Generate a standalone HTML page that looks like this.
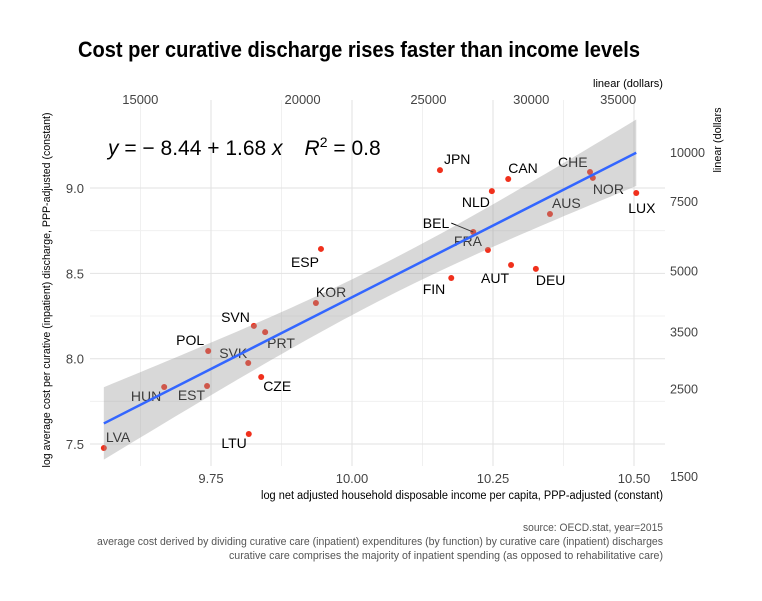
<!DOCTYPE html>
<html><head><meta charset="utf-8"><style>
body{margin:0;background:#fff;}
svg{display:block;font-family:"Liberation Sans",sans-serif;}
</style></head><body>
<svg id="c" width="762" height="601">
<text x="78" y="57" font-size="22" font-weight="bold" fill="#000" textLength="562" lengthAdjust="spacingAndGlyphs">Cost per curative discharge rises faster than income levels</text>
<g id="grid"></g><g id="pts"></g><g id="lbl"></g><g id="band"></g><g id="axes"></g>
<text x="663" y="87" font-size="11" text-anchor="end" fill="#000" textLength="70" lengthAdjust="spacingAndGlyphs">linear (dollars)</text>
<text transform="translate(721,140) rotate(-90)" font-size="11" text-anchor="middle" fill="#000" textLength="65" lengthAdjust="spacingAndGlyphs">linear (dollars</text>
<text x="663" y="499" font-size="11.5" text-anchor="end" fill="#000" textLength="402" lengthAdjust="spacingAndGlyphs">log net adjusted household disposable income per capita, PPP-adjusted (constant)</text>
<text transform="translate(50,290) rotate(-90)" font-size="11" text-anchor="middle" fill="#000" textLength="355" lengthAdjust="spacingAndGlyphs">log average cost per curative (inpatient) discharge, PPP-adjusted (constant)</text>
<text x="108" y="155" font-size="21" fill="#000"><tspan font-style="italic">y</tspan> = − 8.44 + 1.68 <tspan font-style="italic">x</tspan><tspan dx="22" font-style="italic">R</tspan><tspan dy="-8" font-size="14">2</tspan><tspan dy="8"> = 0.8</tspan></text>
<g font-size="11" fill="#555" text-anchor="end">
<text x="663" y="531" textLength="140" lengthAdjust="spacingAndGlyphs">source: OECD.stat, year=2015</text>
<text x="663" y="545" textLength="566" lengthAdjust="spacingAndGlyphs">average cost derived by dividing curative care (inpatient) expenditures (by function) by curative care (inpatient) discharges</text>
<text x="663" y="559" textLength="434" lengthAdjust="spacingAndGlyphs">curative care comprises the majority of inpatient spending (as opposed to rehabilitative care)</text>
</g>
</svg>
<script>
const countries=["LVA","HUN","EST","POL","SVK","LTU","CZE","SVN","PRT","KOR","ESP","JPN","FIN","CAN","NLD","BEL","FRA","AUT","DEU","AUS","CHE","NOR","LUX"];
const incomeLog=[9.560,9.667,9.743,9.745,9.816,9.817,9.839,9.826,9.846,9.936,9.945,10.156,10.176,10.277,10.248,10.215,10.241,10.282,10.326,10.351,10.422,10.427,10.504];
const costLog=[7.477,7.834,7.840,8.045,7.975,7.559,7.893,8.192,8.156,8.326,8.643,9.105,8.473,9.053,8.982,8.742,8.637,8.549,8.526,8.848,9.094,9.059,8.971];
const xTicks=[9.75,10.00,10.25,10.50];
const yTicks=[7.5,8.0,8.5,9.0];
const topTicks=[15000,20000,25000,30000,35000];
const rightTicks=[1500,2500,3500,5000,7500,10000];
const coef=[-8.44,1.68];
const lblOff=[[2,-6,"s"],[-3,14,"e"],[-2,14,"e"],[-4,-6,"e"],[-1,-5,"e"],[-2,14,"e"],[2,14,"s"],[-4,-4,"e"],[2,16,"s"],[0,-6,"s"],[-2,18,"e"],[4,-6,"s"],[-6,16,"e"],[0,-6,"s"],[-2,16,"e"],[-24,-4,"e"],[-34,-4,"s"],[-30,18,"s"],[0,16,"s"],[2,-6,"s"],[-32,-5,"s"],[0,16,"s"],[-8,20,"s"]];
const X=v=>352+(v-10)*564, Y=v=>188+(9-v)*170.7;
const NS="http://www.w3.org/2000/svg";
function mk(p,t,a){const e=document.createElementNS(NS,t);for(const k in a)e.setAttribute(k,a[k]);document.getElementById(p).appendChild(e);return e;}
const x0=90,x1=665,y0=100,y1=466;
[9.625,9.875,10.125,10.375].forEach(v=>{const e=mk("grid","line",{x1:X(v),x2:X(v),y1:y0,y2:y1,stroke:"#f0f0f0"});});
[7.75,8.25,8.75].forEach(v=>{const e=mk("grid","line",{x1:x0,x2:x1,y1:Y(v),y2:Y(v),stroke:"#f0f0f0"});});
xTicks.forEach(v=>{const e=mk("grid","line",{x1:X(v),x2:X(v),y1:y0,y2:y1,stroke:"#e2e2e2"});
 const t=mk("axes","text",{x:X(v),y:483,"font-size":13,fill:"#444","text-anchor":"middle"});t.textContent=v.toFixed(2);});
yTicks.forEach(v=>{const e=mk("grid","line",{x1:x0,x2:x1,y1:Y(v),y2:Y(v),stroke:"#e2e2e2"});
 const t=mk("axes","text",{x:84,y:Y(v)+5,"font-size":13,fill:"#444","text-anchor":"end"});t.textContent=v.toFixed(1);});
topTicks.forEach(v=>{const t=mk("axes","text",{x:X(Math.log(v))+5,y:104,"font-size":13,fill:"#444","text-anchor":"middle"});t.textContent=v;});
rightTicks.forEach(v=>{const t=mk("axes","text",{x:670,y:Y(Math.log(v))+5,"font-size":13,fill:"#444",textLength:String(v).length*7,lengthAdjust:"spacingAndGlyphs"});t.textContent=v;});
incomeLog.forEach((v,i)=>{const c=mk("pts","circle",{cx:X(v),cy:Y(costLog[i]),r:3,fill:"#f0301c"});});
const n=incomeLog.length,xm=incomeLog.reduce((a,b)=>a+b)/n;
let sxx=0,sse=0;incomeLog.forEach((v,i)=>{sxx+=(v-xm)**2;sse+=(costLog[i]-(coef[0]+coef[1]*v))**2;});
const s=Math.sqrt(sse/(n-2)),tq=2.08;
const xa=Math.min(...incomeLog),xb=Math.max(...incomeLog);
let up=[],lo=[];for(let k=0;k<=60;k++){const v=xa+(xb-xa)*k/60,f=coef[0]+coef[1]*v,h=tq*s*Math.sqrt(1/n+(v-xm)**2/sxx);up.push(X(v)+","+Y(f+h));lo.unshift(X(v)+","+Y(f-h));}
const b=mk("band","polygon",{points:up.concat(lo).join(" "),fill:"#999",opacity:0.38});
const l=mk("band","line",{x1:X(xa),y1:Y(coef[0]+coef[1]*xa),x2:X(xb),y2:Y(coef[0]+coef[1]*xb),stroke:"#3366ff","stroke-width":2.5});
countries.forEach((c,i)=>{const o=lblOff[i],px=X(incomeLog[i]),py=Y(costLog[i]);
 const t=mk("lbl","text",{x:px+o[0],y:py+o[1],"font-size":14,fill:"#000","text-anchor":o[2]=="e"?"end":"start"});t.textContent=c;});
const bl=mk("lbl","line",{x1:X(incomeLog[15])-22,y1:Y(costLog[15])-9,x2:X(incomeLog[15]),y2:Y(costLog[15]),stroke:"#000"});
</script>
</body></html>
